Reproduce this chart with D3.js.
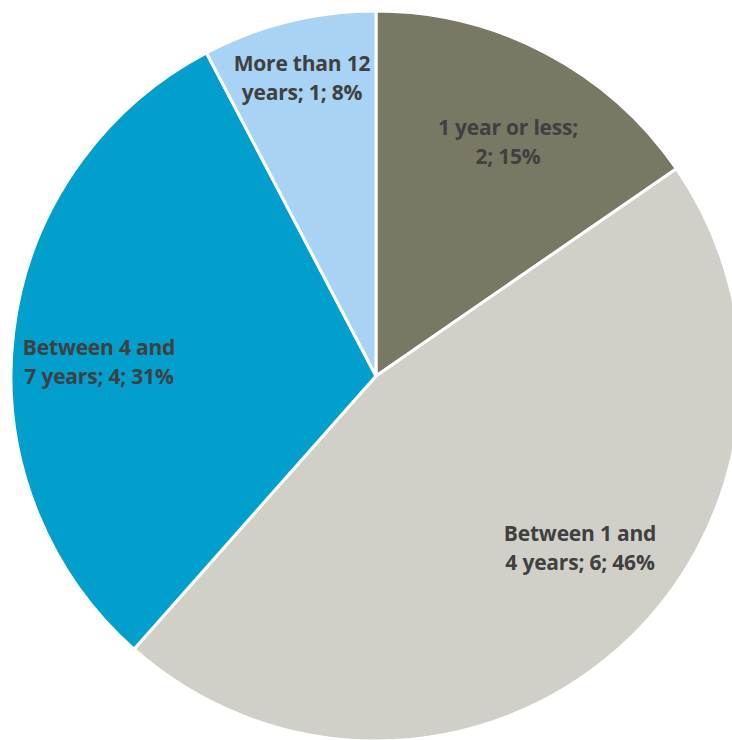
<!DOCTYPE html>
<html>
<head>
<meta charset="utf-8">
<script src="https://cdn.jsdelivr.net/npm/d3@7"></script>
<style>
  html, body { margin: 0; padding: 0; background: #fff; }
  svg { display: block; }
  .lbl { font-family: "Open Sans", Lato, sans-serif; font-weight: bold; font-size: 21px; letter-spacing: -0.2px; fill: #404040; }
</style>
</head>
<body>
<svg id="chart" width="732" height="740"></svg>
<script>
// Tenure groups, counts and shares
const categories = ["1 year or less", "Between 1 and 4 years", "Between 4 and 7 years", "More than 12 years"];
const counts = [2, 6, 4, 1];
const percents = ["15%", "46%", "31%", "8%"];
const labelLines = [
  ["1 year or less;", "2; 15%"],
  ["Between 1 and", "4 years; 6; 46%"],
  ["Between 4 and", "7 years; 4; 31%"],
  ["More than 12", "years; 1; 8%"]
];
const colors = ["#787864", "#d0d0c8", "#009fcc", "#a8d3f4"];

// Label anchors (centre of first baseline), offset from the pie centre
const labelOffset = [[132, -241], [204, 165], [-277, -21], [-74, -305]];

const svg = d3.select("#chart");
const cx = 376, cy = 376, R = 365;
const g = svg.append("g").attr("transform", `translate(${cx},${cy})`);

const pie = d3.pie().sort(null).value(d => d)(counts);
const arc = d3.arc().innerRadius(0).outerRadius(R);

g.selectAll("path.slice")
  .data(pie)
  .join("path")
  .attr("class", "slice")
  .attr("d", arc)
  .attr("fill", (d, i) => colors[i])
  .attr("stroke", "#fff")
  .attr("stroke-width", 3)
  .attr("stroke-linejoin", "round");

const lineH = 29;
pie.forEach((d, i) => {
  const [x, y] = labelOffset[i];
  const t = g.append("text")
    .attr("class", "lbl")
    .attr("text-anchor", "middle")
    .attr("x", x)
    .attr("y", y);
  labelLines[i].forEach((ln, k) => {
    t.append("tspan").attr("x", x).attr("dy", k === 0 ? 0 : lineH).text(ln);
  });
});
</script>
</body>
</html>
